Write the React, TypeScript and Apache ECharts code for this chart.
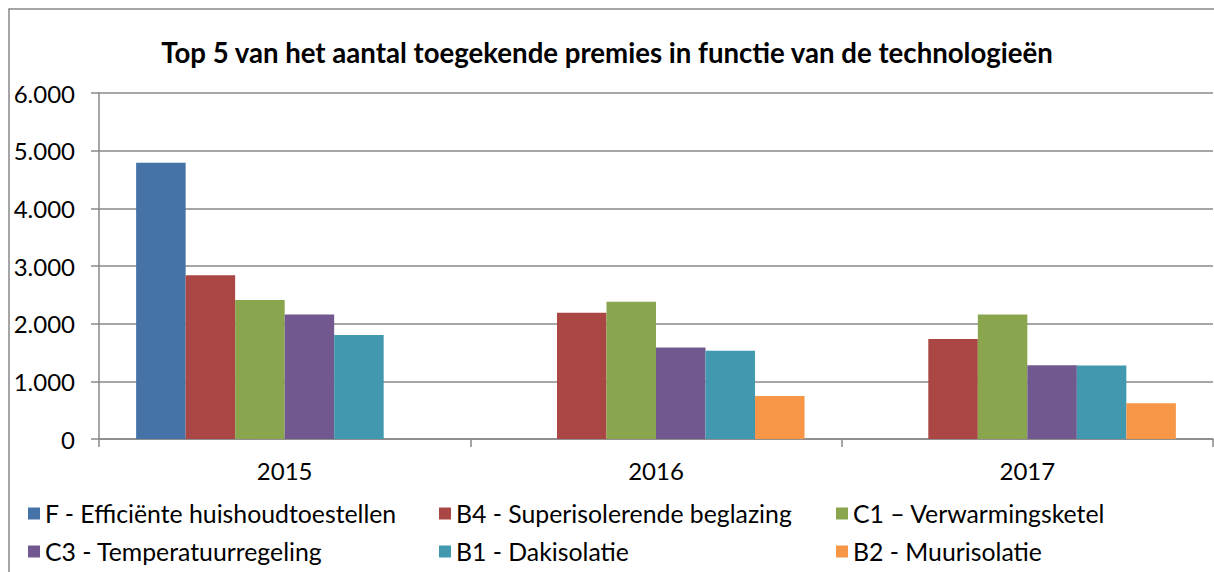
import React, { useEffect, useRef } from "react";
import * as echarts from "echarts";

const titleText = "Top 5 van het aantal toegekende premies in functie van de technologieën";
const categories = ["2015", "2016", "2017"];
const seriesNames = [
  "F - Efficiënte huishoudtoestellen",
  "B4 - Superisolerende beglazing",
  "C1 – Verwarmingsketel",
  "C3 - Temperatuurregeling",
  "B1 - Dakisolatie",
  "B2 - Muurisolatie",
];
const fValues = [4790, null, null];
const b4Values = [2840, 2190, 1735];
const c1Values = [2410, 2380, 2160];
const c3Values = [2160, 1585, 1280];
const b1Values = [1805, 1530, 1275];
const b2Values = [null, 745, 620];
const colors = ["#4572A7", "#AA4643", "#89A54E", "#71588F", "#4198AF", "#F79646"];
const yTicks = { min: 0, max: 6000, interval: 1000 };

const legendPos = [
  { left: 28, top: 501 },
  { left: 439, top: 501 },
  { left: 836, top: 501 },
  { left: 28, top: 539 },
  { left: 439, top: 539 },
  { left: 836, top: 539 },
];

export default function App() {
  const ref = useRef<HTMLDivElement>(null);
  useEffect(() => {
    if (!ref.current) return;
    const chart = echarts.init(ref.current, null, { renderer: "svg" });
    const allValues = [fValues, b4Values, c1Values, c3Values, b1Values, b2Values];
    const font = "Lato, 'Open Sans', sans-serif";
    chart.setOption({
      animation: false,
      color: colors,
      textStyle: { fontFamily: font },
      title: {
        text: titleText,
        left: "center",
        top: 33,
        textStyle: { fontFamily: font, fontWeight: "bold", fontSize: 27.6, color: "#000" },
      },
      legend: seriesNames.map((name, i) => ({
        data: [name],
        left: legendPos[i].left,
        top: legendPos[i].top,
        padding: 0,
        itemWidth: 12,
        itemHeight: 12,
        icon: "rect",
        selectedMode: false,
        textStyle: { fontFamily: font, fontSize: 24.8, color: "#000" },
      })),
      graphic: [
        {
          type: "rect",
          shape: { x: 9, y: 9, width: 1300, height: 700 },
          style: { fill: "none", stroke: "#888", lineWidth: 1.5 },
          silent: true,
        },
      ],
      grid: { left: 99, right: 1, top: 93, bottom: 133, containLabel: false },
      xAxis: {
        type: "category",
        data: categories,
        axisLine: { lineStyle: { color: "#888", width: 1.5 } },
        axisTick: { show: true, length: 8, lineStyle: { color: "#888", width: 1.5 } },
        axisLabel: { color: "#000", fontSize: 24, fontFamily: font, margin: 19 },
      },
      yAxis: {
        type: "value",
        min: yTicks.min,
        max: yTicks.max,
        interval: yTicks.interval,
        axisLine: { show: true, lineStyle: { color: "#888", width: 1.5 } },
        axisTick: { show: true, length: 8, inside: false, lineStyle: { color: "#888", width: 1.5 } },
        splitLine: { lineStyle: { color: "#888", width: 1.5 } },
        axisLabel: {
          color: "#000",
          fontSize: 24,
          fontFamily: font,
          margin: 24,
          formatter: (v: number) => v.toLocaleString("de-DE"),
        },
      },
      series: seriesNames.map((name, i) => ({
        name,
        type: "bar",
        data: allValues[i],
        barGap: "0%",
        barCategoryGap: "20%",
        itemStyle: { color: colors[i] },
      })),
    });
    return () => chart.dispose();
  }, []);
  return (
    <div
      ref={ref}
      style={{ position: "fixed", left: 0, top: 0, width: 1214, height: 572, background: "#fff" }}
    />
  );
}
